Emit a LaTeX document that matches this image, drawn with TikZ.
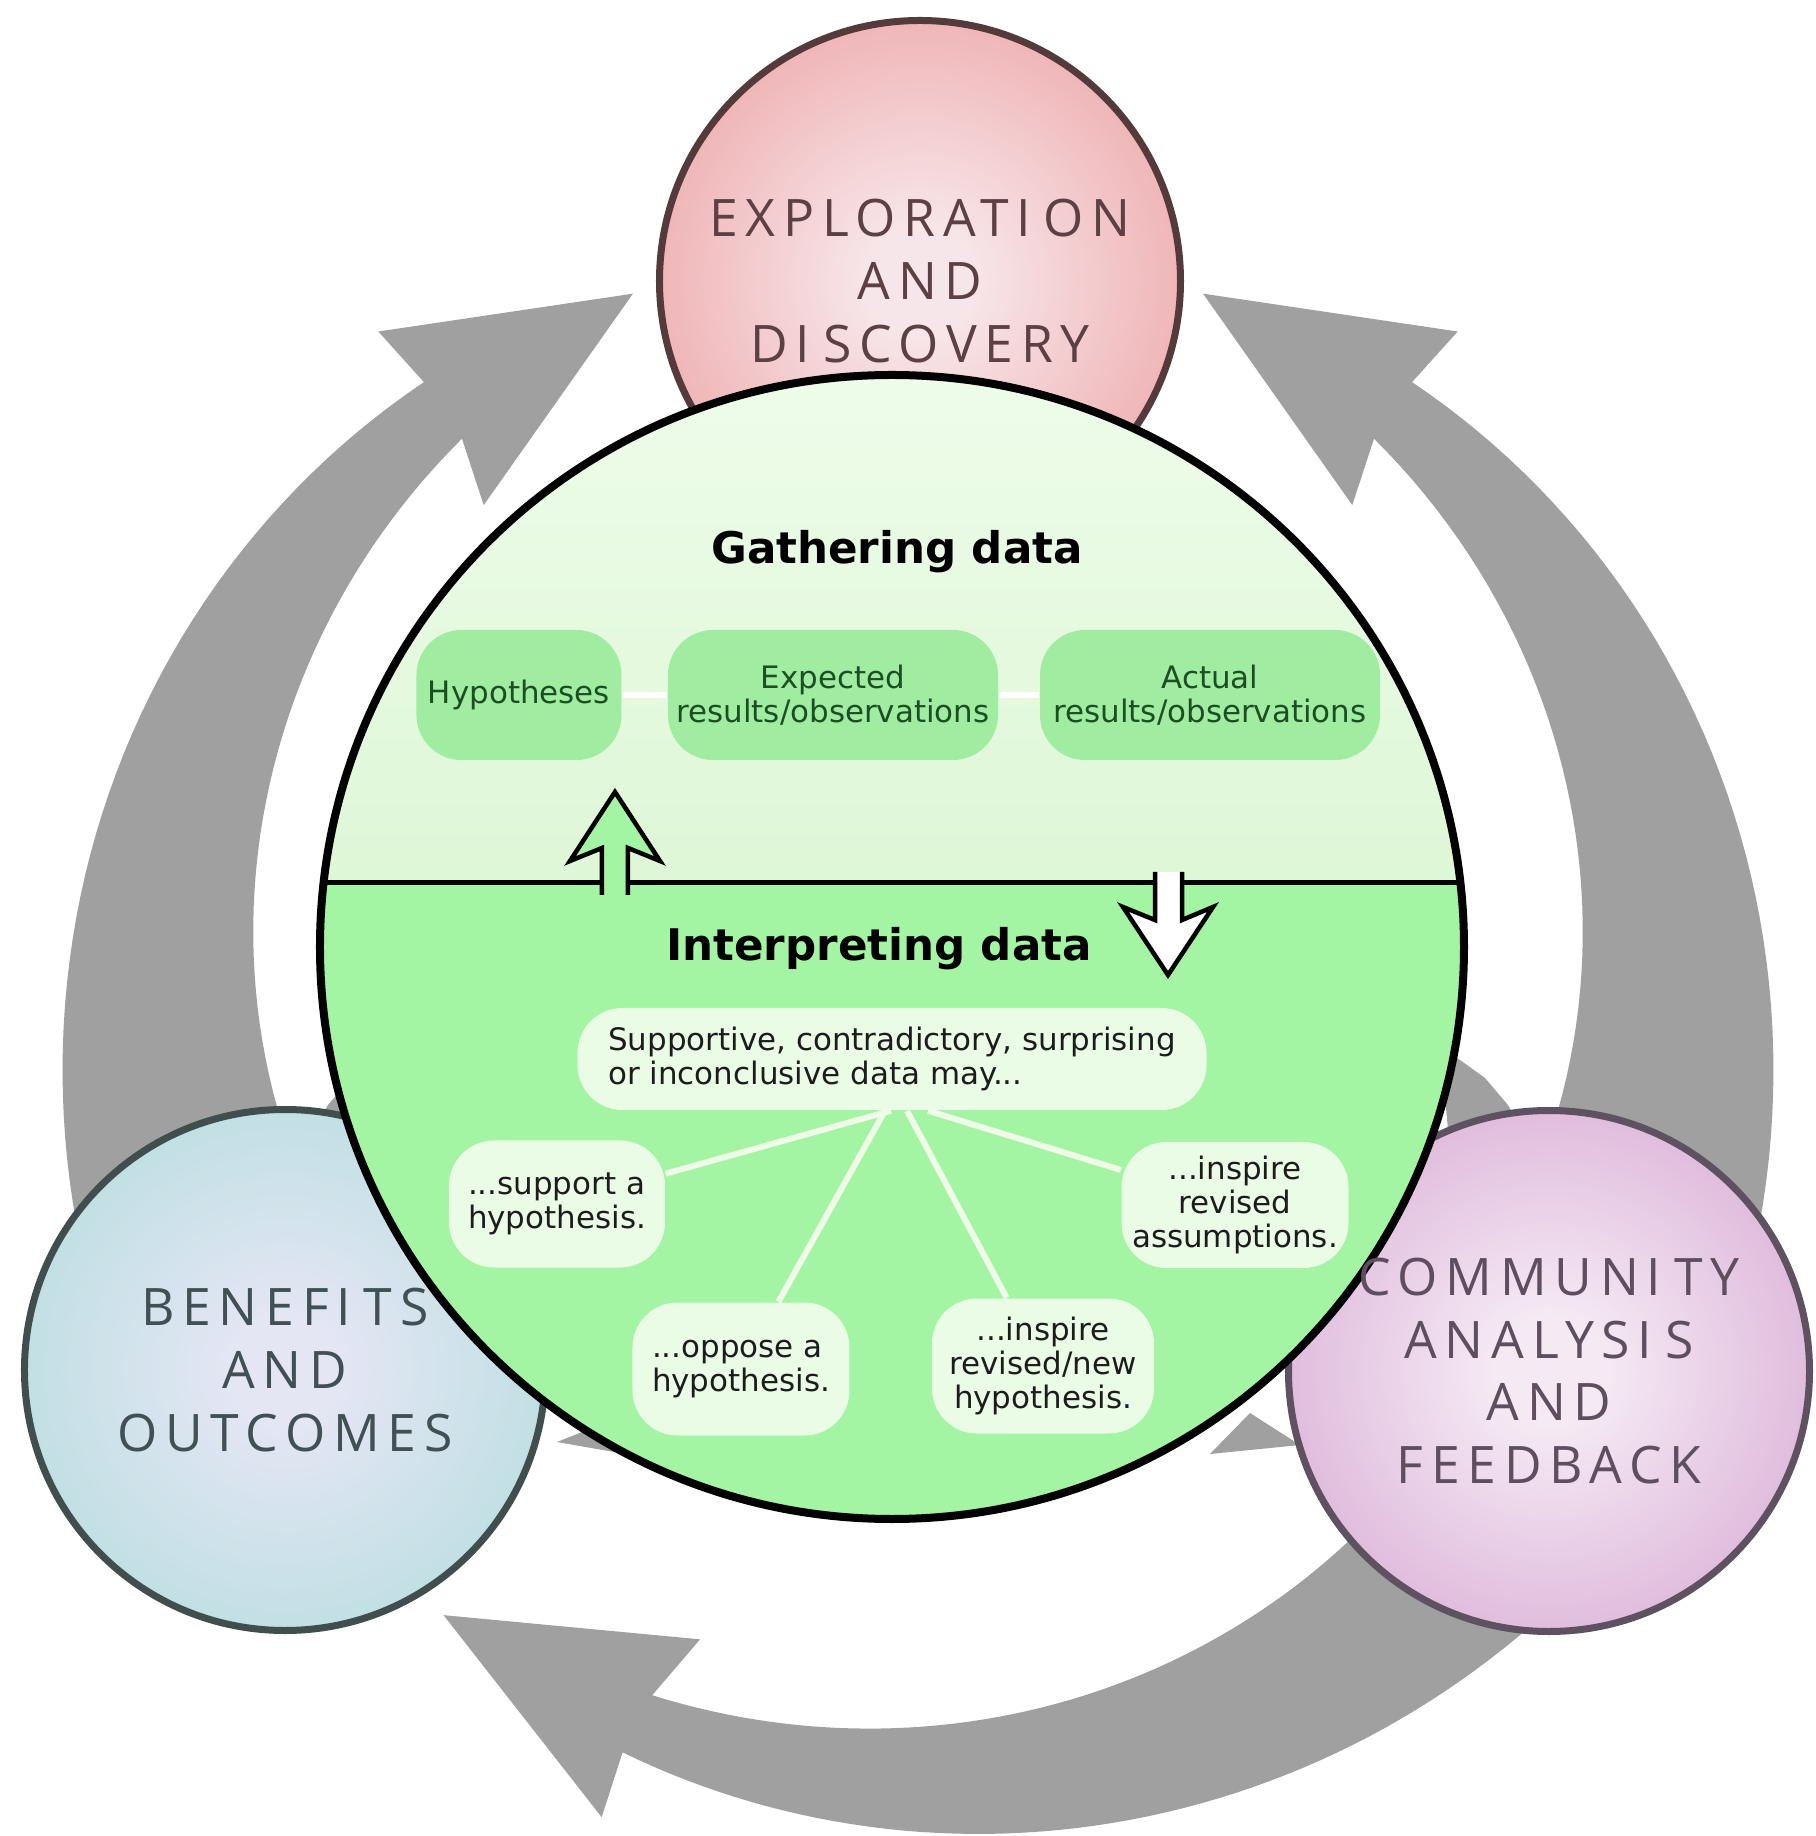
\documentclass[tikz,border=0pt]{standalone}
\usepackage{fontspec}
\usepackage{tikz}
\usetikzlibrary{positioning, calc}

\newfontfamily\ringfont{Open Sans}[LetterSpace=15]
\newfontfamily\panelfont{DejaVu Sans}
\newcommand{\gapI}{I\kern0.25em}

% colours of the outer circles
\definecolor{pinkin}{RGB}{247,230,233}
\definecolor{pinkout}{RGB}{236,158,160}
\definecolor{pinkrim}{RGB}{85,58,60}
\definecolor{pinktext}{RGB}{92,64,68}
\definecolor{tealin}{RGB}{228,230,244}
\definecolor{tealout}{RGB}{176,220,220}
\definecolor{tealrim}{RGB}{64,78,78}
\definecolor{tealtext}{RGB}{64,80,84}
\definecolor{mauvein}{RGB}{245,234,244}
\definecolor{mauveout}{RGB}{214,166,210}
\definecolor{mauverim}{RGB}{94,82,98}
\definecolor{mauvetext}{RGB}{94,78,96}
% colours of the ring and the panel
\definecolor{arrowgray}{RGB}{160,160,160}
\definecolor{panelgreen}{RGB}{163,245,163}
\definecolor{paneltop}{RGB}{238,252,234}
\definecolor{panelmid}{RGB}{222,247,214}
\definecolor{boxgreen}{RGB}{160,236,160}
\definecolor{boxtext}{RGB}{28,78,36}
\definecolor{paleboxfill}{RGB}{234,251,230}
\definecolor{spokecol}{RGB}{238,252,232}
\definecolor{inktext}{RGB}{28,28,28}

\pgfdeclareradialshading{pinkglow}{\pgfpoint{0bp}{0bp}}{color(0bp)=(pinkin); color(5bp)=(pinkin); color(35bp)=(pinkout); color(50bp)=(pinkout)}
\pgfdeclareradialshading{tealglow}{\pgfpoint{0bp}{0bp}}{color(0bp)=(tealin); color(5bp)=(tealin); color(35bp)=(tealout); color(50bp)=(tealout)}
\pgfdeclareradialshading{mauveglow}{\pgfpoint{0bp}{0bp}}{color(0bp)=(mauvein); color(5bp)=(mauvein); color(35bp)=(mauveout); color(50bp)=(mauveout)}

\begin{document}
\begin{tikzpicture}[
    % GLOBAL CFG
    font=\panelfont,
    % Styles
    ball/.style={% For the three outer circles
        circle,
        line width=0.07cm,
        minimum size=5.21cm,
        inner sep=0pt,
        },
    balltext/.style={% Words on the outer circles
        font=\ringfont\fontsize{14.7}{17.9}\selectfont,
        align=center,
        },
    ringarrow/.style={% The big grey arrows
        fill=arrowgray,
        samples=60,
        },
    panel/.style={% The green disc in the middle
        circle,
        fill=panelgreen,
        minimum size=11.44cm,
        inner sep=0pt,
        },
    rim/.style={%
        line width=0.08cm,
        },
    softbox/.style={% Boxes of the gathering half
        rectangle,
        rounded corners=0.45cm,
        fill=boxgreen,
        text=boxtext,
        align=center,
        inner sep=0pt,
        font=\panelfont\fontsize{8.8}{9.6}\selectfont,
        },
    palebox/.style={% Boxes of the interpreting half
        rectangle,
        rounded corners=0.45cm,
        fill=paleboxfill,
        text=inktext,
        align=center,
        inner sep=0pt,
        font=\panelfont\fontsize{8.8}{9.6}\selectfont,
        },
    heading/.style={%
        font=\panelfont\bfseries\fontsize{12.4}{14}\selectfont,
        },
    link/.style={% pale lines between boxes
        line width=0.06cm,
        draw=white,
        },
    spoke/.style={%
        line width=0.06cm,
        draw=spokecol,
        },
    block/.style={% hollow block arrows
        line width=0.045cm,
        line join=miter,
        },
    ]

    \useasboundingbox (-9.18,-8.26) rectangle (8.97,10.10);

    % Grey ring arrows (centre of the ring is the origin)
    \fill[ringarrow] plot[domain=215:128.2] (\x:{7.99+0.0105*(\x-128.2)})
        -- (128.5:8.67) -- (111.7:7.71) -- (130.7:6.66) -- (128.6:7.31)
        -- plot[domain=128.6:215] (\x:{7.31-0.0138*(\x-128.6)}) -- cycle;
    \fill[ringarrow] plot[domain=-35:51.8] (\x:{7.99+0.0105*(51.8-\x)})
        -- (51.5:8.67) -- (68.3:7.71) -- (49.3:6.66) -- (51.4:7.31)
        -- plot[domain=51.4:-35] (\x:{7.31-0.0138*(51.4-\x)}) -- cycle;
    \fill[ringarrow] plot[domain=320:248.3] (\x:{7.99+0.0105*(\x-248.3)})
        -- (248.6:8.67) -- (231.9:7.69) -- (250.9:6.66) -- (248.8:7.35)
        -- plot[domain=248.8:320] (\x:{7.35-0.0085*(\x-248.8)}) -- cycle;

    % bits of grey that peep out behind the circles
    \fill[arrowgray] (5.22,-0.36) -- (5.42,-0.50) -- (5.67,-0.68) -- (5.90,-0.95)
        -- (6.07,-1.25) -- (5.32,-1.40) -- cycle;
    \fill[arrowgray] (-5.22,-0.36) -- (-5.42,-0.50) -- (-5.67,-0.68) -- (-5.90,-0.95)
        -- (-6.07,-1.25) -- (-5.32,-1.40) -- cycle;
    \fill[arrowgray] (-3.61,-4.32) -- (-2.68,-3.95) -- (-2.58,-4.50) -- cycle;
    \fill[arrowgray] (2.92,-4.44) -- (3.32,-4.03) -- (3.82,-4.35) -- cycle;

    % Draw the outer circles
    \node[ball, shading=pinkglow, draw=pinkrim] (explore) at (0.02,7.29) {};
    \node[ball, shading=tealglow, draw=tealrim] (benefit) at (-6.33,-3.60) {};
    \node[ball, shading=mauveglow, draw=mauverim] (commun) at (6.31,-3.61) {};

    % Draw the panel
    \node[panel] (panel) at (-0.26,0.63) {};
    \begin{scope}
        \clip (panel.center) circle[radius=5.72];
        \shade[top color=paneltop, bottom color=panelmid] (-6.1,1.27) rectangle (5.6,6.4);
        \draw[line width=0.05cm] (-6.1,1.27) -- (5.6,1.27);
    \end{scope}
    \draw[rim] (panel.center) circle[radius=5.72];

    % Gathering half
    \node[heading] (gather) at (-0.21,4.58) {Gathering data};
    \node[softbox, minimum width=2.05cm, minimum height=1.3cm] (hypo) at (-3.99,3.15) {Hypotheses};
    \node[softbox, minimum width=3.3cm, minimum height=1.3cm] (expect) at (-0.85,3.15) {Expected\\results/observations};
    \node[softbox, minimum width=3.4cm, minimum height=1.3cm] (actual) at (2.92,3.15) {Actual\\results/observations};
    \draw[link] (hypo) -- (expect);
    \draw[link] (expect) -- (actual);

    % Block arrows across the divider
    \fill[panelgreen] (-3.16,1.10) -- (-3.16,1.62) -- (-3.48,1.49) -- (-3.03,2.18)
        -- (-2.58,1.49) -- (-2.90,1.62) -- (-2.90,1.10) -- cycle;
    \draw[block] (-3.16,1.15) -- (-3.16,1.62) -- (-3.48,1.49) -- (-3.03,2.18)
        -- (-2.58,1.49) -- (-2.90,1.62) -- (-2.90,1.15);
    \fill[white] (2.37,1.38) -- (2.37,0.90) -- (2.05,1.03) -- (2.50,0.35)
        -- (2.95,1.03) -- (2.64,0.90) -- (2.64,1.38) -- cycle;
    \draw[block] (2.37,1.38) -- (2.37,0.90) -- (2.05,1.03) -- (2.50,0.35)
        -- (2.95,1.03) -- (2.64,0.90) -- (2.64,1.38);

    % Interpreting half
    \node[heading] (interp) at (-0.39,0.61) {Interpreting data};
    \node[palebox, minimum width=6.29cm, minimum height=1.02cm, align=left] (supp) at (-0.26,-0.49) {Supportive, contradictory, surprising\\or inconclusive data may...};
    \node[palebox, minimum width=2.16cm, minimum height=1.27cm, align=left] (suphyp) at (-3.61,-1.94) {...support a\\hypothesis.};
    \node[palebox, minimum width=2.17cm, minimum height=1.33cm, align=left] (opphyp) at (-1.77,-3.59) {...oppose a\\hypothesis.};
    \node[palebox, minimum width=2.22cm, minimum height=1.35cm] (newhyp) at (1.25,-3.56) {...inspire\\revised/new\\hypothesis.};
    \node[palebox, minimum width=2.27cm, minimum height=1.26cm] (revass) at (3.17,-1.95) {...inspire\\revised\\assumptions.};

    \draw[spoke] ([xshift=-0.01cm]supp.south) -- (suphyp);
    \draw[spoke] ([xshift=-0.07cm]supp.south) -- (opphyp);
    \draw[spoke] ([xshift=0.15cm]supp.south) -- (newhyp);
    \draw[spoke] ([xshift=0.36cm]supp.south) -- (revass);

    % Words on the outer circles
    \node[balltext, text=pinktext] (exploretxt) at (explore) {EXPLORAT\gapI ON\\AND\\D\gapI SCOVERY};
    \node[balltext, text=tealtext] (benefittxt) at (benefit) {BENEF\gapI TS\\AND\\OUTCOMES};
    \node[balltext, text=mauvetext] (communtxt) at (commun) {COMMUN\gapI TY\\ANALYS\gapI S\\AND\\FEEDBACK};
\end{tikzpicture}
\end{document}
